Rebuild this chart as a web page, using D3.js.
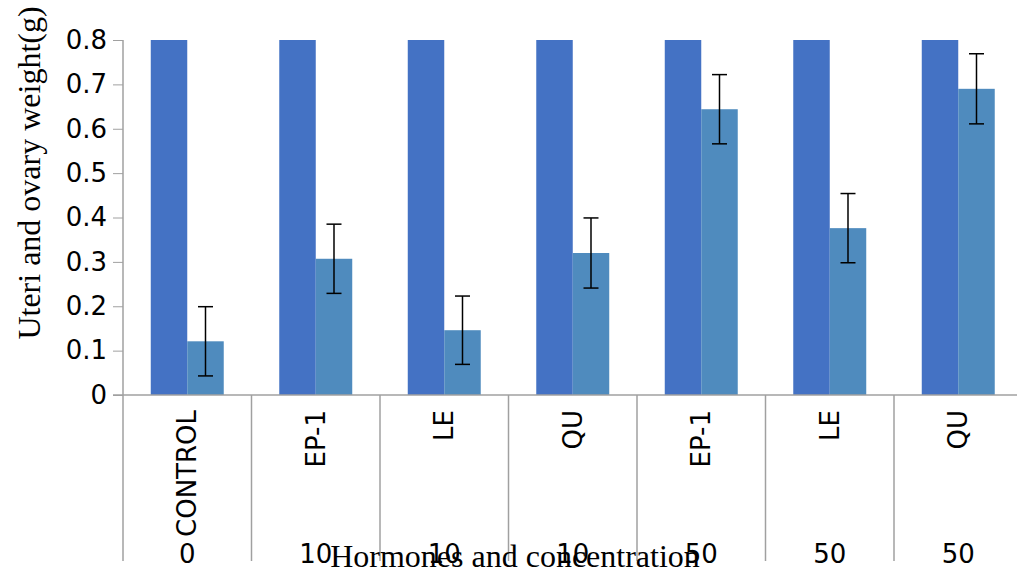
<!DOCTYPE html>
<html>
<head>
<meta charset="utf-8">
<script src="https://cdn.jsdelivr.net/npm/d3@7/dist/d3.min.js"></script>
<style>
  html, body { margin: 0; padding: 0; background: #fff; }
  svg { display: block; }
</style>
</head>
<body>
<svg id="chart" width="1017" height="571"></svg>
<script>
// Treatment groups (hormone) and their concentrations
const hormones = ["CONTROL", "EP-1", "LE", "QU", "EP-1", "LE", "QU"];
const concentrations = ["0", "10", "10", "10", "50", "50", "50"];

// Series values (g); the first series runs past the top of the axis
const seriesA = [0.85, 0.85, 0.85, 0.85, 0.85, 0.85, 0.85];
const seriesB = [0.121, 0.307, 0.146, 0.320, 0.644, 0.376, 0.690];
const errorsB = [0.078, 0.078, 0.077, 0.079, 0.078, 0.078, 0.079];

const yTicks = [0, 0.1, 0.2, 0.3, 0.4, 0.5, 0.6, 0.7, 0.8];

const svg = d3.select("#chart");
const mLeft = 123, mRight = 1022.5, mTop = 40, mBottom = 395;
const colors = ["#4472C4", "#4F8BBE"];
const axisColor = "#A0A0A0";
const sans = "'DejaVu Sans', sans-serif";
const serif = "'Liberation Serif', 'Times New Roman', serif";
const labelSize = 26, titleSize = 32;

const keys = hormones.map((h, i) => i);
const x0 = d3.scaleBand().domain(keys).range([mLeft, mRight])
  .paddingInner(0.432).paddingOuter(0.216);
const step = x0.step();
const x1 = d3.scaleBand().domain([0, 1]).range([0, x0.bandwidth()]);
const y = d3.scaleLinear().domain([0, 0.8]).range([mBottom, mTop]);

svg.append("defs").append("clipPath").attr("id", "plotClip")
  .append("rect").attr("x", mLeft).attr("y", mTop).attr("width", mRight - mLeft).attr("height", mBottom - mTop);

// Bars
const plot = svg.append("g").attr("clip-path", "url(#plotClip)");
const rows = keys.map(i => ({ i, vals: [seriesA[i], seriesB[i]] }));
const groups = plot.selectAll("g.grp").data(rows).join("g")
  .attr("transform", d => `translate(${x0(d.i)},0)`);
groups.selectAll("rect").data(d => d.vals.map((v, s) => ({ v, s }))).join("rect")
  .attr("x", d => x1(d.s))
  .attr("width", x1.bandwidth())
  .attr("y", d => y(d.v))
  .attr("height", d => y(0) - y(d.v))
  .attr("fill", d => colors[d.s]);

// Error bars on the second series
const eb = svg.append("g").attr("stroke", "#000").attr("stroke-width", 1.5);
keys.forEach(i => {
  const cx = x0(i) + x1(1) + x1.bandwidth() / 2;
  const hi = y(seriesB[i] + errorsB[i]), lo = y(seriesB[i] - errorsB[i]);
  eb.append("line").attr("x1", cx).attr("x2", cx).attr("y1", hi).attr("y2", lo);
  eb.append("line").attr("x1", cx - 7.5).attr("x2", cx + 7.5).attr("y1", hi).attr("y2", hi);
  eb.append("line").attr("x1", cx - 7.5).attr("x2", cx + 7.5).attr("y1", lo).attr("y2", lo);
});

// Y axis
const yAxis = svg.append("g").attr("transform", `translate(${mLeft},0)`)
  .call(d3.axisLeft(y).tickValues(yTicks).tickSize(10).tickPadding(6)
    .tickFormat(d => d === 0 ? "0" : d3.format(".1f")(d)));
yAxis.select(".domain").remove();
yAxis.selectAll(".tick line").attr("stroke", axisColor);
yAxis.selectAll(".tick text").attr("font-family", sans).attr("font-size", labelSize).attr("fill", "#000");
svg.append("line").attr("x1", mLeft).attr("x2", mLeft).attr("y1", mTop).attr("y2", 561)
  .attr("stroke", axisColor).attr("stroke-width", 1.5);

// X axis baseline and category separators
svg.append("line").attr("x1", mLeft - 10).attr("x2", mRight).attr("y1", mBottom).attr("y2", mBottom)
  .attr("stroke", axisColor).attr("stroke-width", 1.5);
svg.append("g").selectAll("line").data(keys.slice(1).concat([keys.length])).join("line")
  .attr("x1", d => mLeft + d * step).attr("x2", d => mLeft + d * step)
  .attr("y1", mBottom).attr("y2", 561)
  .attr("stroke", axisColor).attr("stroke-width", 1.5);

// Category labels (rotated) and concentration labels
const centers = keys.map(i => x0(i) + x0.bandwidth() / 2);
svg.append("g").selectAll("text").data(keys).join("text")
  .attr("transform", i => `translate(${centers[i]},410) rotate(-90)`)
  .attr("text-anchor", "end").attr("dy", "0.35em")
  .attr("font-family", sans).attr("font-size", labelSize).attr("fill", "#000")
  .text(i => hormones[i]);
svg.append("g").selectAll("text").data(keys).join("text")
  .attr("x", i => centers[i]).attr("y", 563)
  .attr("text-anchor", "middle")
  .attr("font-family", sans).attr("font-size", labelSize).attr("fill", "#000")
  .text(i => concentrations[i]);

// Axis titles
svg.append("text")
  .attr("transform", "translate(40,173) rotate(-90)")
  .attr("text-anchor", "middle")
  .attr("font-family", serif).attr("font-size", titleSize).attr("fill", "#000")
  .text("Uteri and ovary weight(g)");
svg.append("text")
  .attr("x", 515).attr("y", 567)
  .attr("text-anchor", "middle")
  .attr("font-family", serif).attr("font-size", titleSize).attr("fill", "#000")
  .text("Hormones and concentration");
</script>
</body>
</html>
